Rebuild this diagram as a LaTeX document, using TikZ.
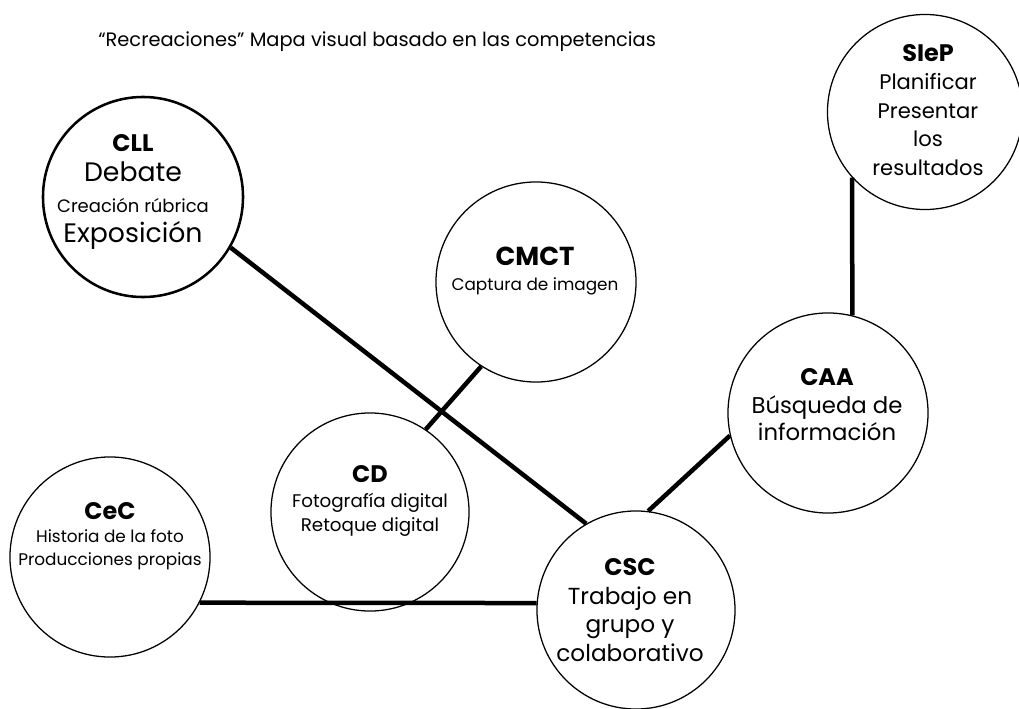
\documentclass[tikz,border=0pt]{standalone}
\usepackage{fontspec}
\setmainfont{Poppins}
\newcommand\comptitle[1]{{\bfseries\fontsize{17}{20}\selectfont #1}}
\begin{document}
\begin{tikzpicture}[x=0.025cm,y=-0.025cm,
  bubble/.style={draw,circle,line width=0.9pt,minimum size=5cm,inner sep=0pt},
  link/.style={line width=3.2pt},
  words/.style={align=center,inner sep=0pt}]
\useasboundingbox (0,0) rectangle (1019,709);
\node[anchor=base west,inner sep=0pt,font=\fontsize{13.8}{16}\selectfont] (title) at (98,47) {“Recreaciones” Mapa visual basado en las competencias};
\node[bubble,line width=1.8pt] (cll) at (143,197) {};
\node[bubble] (cmct) at (536,282) {};
\node[bubble,minimum size=4.875cm] (siep) at (925,112) {};
\node[bubble] (caa) at (828,413) {};
\node[bubble,minimum size=4.95cm] (cd) at (370,512) {};
\node[bubble] (cec) at (110,557) {};
\node[bubble,minimum size=4.95cm] (csc) at (636,610) {};
\node[words,font=\fontsize{19}{21.8}\selectfont] (cllText) at (133,192) {\comptitle{CLL}\\Debate\\{\fontsize{12.8}{15}\selectfont Creación rúbrica}\\Exposición};
\node[words,font=\fontsize{12}{17.8}\selectfont] (cmctText) at (535,271) {{\bfseries\fontsize{18.5}{20}\selectfont CMCT}\\Captura de imagen};
\node[words,font=\fontsize{15}{20.3}\selectfont] (siepText) at (928,110) {\comptitle{SIeP}\\Planificar\\Presentar\\los\\resultados};
\node[words,font=\fontsize{16.2}{19.6}\selectfont] (caaText) at (827,405) {\comptitle{CAA}\\Búsqueda de\\información};
\node[words,font=\fontsize{13}{17.3}\selectfont] (cdText) at (370,501) {\comptitle{CD}\\Fotografía digital\\Retoque digital};
\node[words,font=\fontsize{12}{16.4}\selectfont] (cecText) at (110,536) {\comptitle{CeC}\\Historia de la foto\\Producciones propias};
\node[words,font=\fontsize{16.5}{20.3}\selectfont] (cscText) at (630,610) {\comptitle{CSC}\\Trabajo en\\grupo y\\colaborativo};
\draw[link] (cll.-30) -- (csc.120);
\draw[link] (cmct.-123) -- (cd.56);
\draw[link] (siep.-138) -- (caa.76);
\draw[link] (caa.-167.5) -- (csc.83);
\draw[link] (cec.-27.4) -- (csc.176);
\end{tikzpicture}
\end{document}
